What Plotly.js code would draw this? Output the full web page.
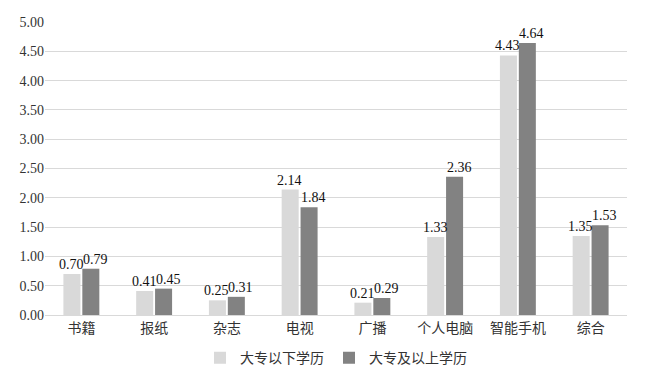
<!DOCTYPE html>
<html><head><meta charset="utf-8">
<script src="https://cdn.plot.ly/plotly-3.0.1.min.js"></script>
<style>body{margin:0;padding:0;background:#fff}#c{width:653px;height:381px}</style>
</head><body><div id="c"></div>
<script>
var categories = ["书籍","报纸","杂志","电视","广播","个人电脑","智能手机","综合"];
var belowCollege = [0.70,0.41,0.25,2.14,0.21,1.33,4.43,1.35];
var collegeAbove = [0.79,0.45,0.31,1.84,0.29,2.36,4.64,1.53];
var seriesNames = ["大专以下学历","大专及以上学历"];
var seriesColors = ["#d9d9d9","#828282"];
var fnt = "Liberation Serif, Times New Roman, DejaVu Serif, Noto Sans CJK SC, serif";
var series = [belowCollege, collegeAbove];
var data = series.map(function(y,i){
  return {type:"bar", x:categories, y:y, name:seriesNames[i],
    marker:{color:seriesColors[i]}, hoverinfo:"none"};
});
var annotations = [];
var shifts = [-10, 14];
series.forEach(function(y,i){
  y.forEach(function(v,j){
    annotations.push({x:categories[j], y:v, xref:"x", yref:"y", text:v.toFixed(2),
      showarrow:false, yanchor:"bottom", xanchor:"center", xshift:shifts[i], yshift:0,
      font:{family:fnt,size:14,color:"#111"}});
  });
});
var layout = {
  width:653, height:381,
  margin:{l:45,r:26,t:22,b:66, autoexpand:false},
  paper_bgcolor:"#fff", plot_bgcolor:"#fff",
  barmode:"group", bargap:0.48, bargroupgap:0.1,
  font:{family:fnt,size:14,color:"#333"},
  annotations:annotations,
  xaxis:{showgrid:false, showline:true, linecolor:"#d9d9d9", ticks:"", automargin:false, tickfont:{family:fnt,size:14,color:"#333"}},
  yaxis:{range:[0,5], dtick:0.5, tickformat:".2f", showgrid:true, gridcolor:"#d9d9d9", zeroline:false, showline:false, ticks:"", automargin:false, tickfont:{family:fnt,size:14,color:"#333"}},
  showlegend:true,
  legend:{orientation:"h", x:0.5, xanchor:"center", xref:"paper", yref:"container", y:0.06, yanchor:"middle", font:{family:fnt,size:14,color:"#333"}, traceorder:"normal"}
};
Plotly.newPlot("c", data, layout, {displayModeBar:false, staticPlot:true});
</script></body></html>
